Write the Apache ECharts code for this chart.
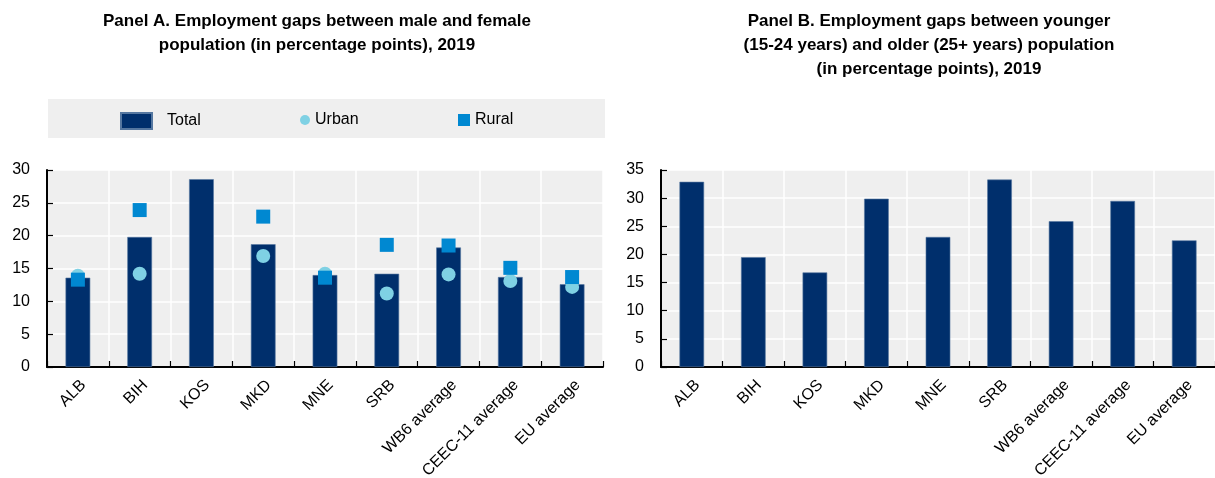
<!DOCTYPE html>
<html>
<head>
<meta charset="utf-8">
<script src="https://cdn.jsdelivr.net/npm/echarts@6/dist/echarts.min.js"></script>
<style>
  html, body { margin: 0; padding: 0; background: #fff; }
  #chart { width: 1215px; height: 478px; }
</style>
</head>
<body>
<div id="chart"></div>
<script>
// Country / aggregate labels shared by both panels
const categories = ['ALB', 'BIH', 'KOS', 'MKD', 'MNE', 'SRB', 'WB6 average', 'CEEC-11 average', 'EU average'];

// Panel A: male-female employment gap (pp)
const genderTotal = [13.6, 19.8, 28.6, 18.7, 14.0, 14.2, 18.2, 13.7, 12.6];
const genderUrban = [13.9, 14.2, null, 16.9, 14.2, 11.2, 14.1, 13.1, 12.2];
const genderRural = [13.3, 23.9, null, 22.9, 13.6, 18.6, 18.5, 15.1, 13.7];

// Panel B: younger (15-24) vs older (25+) employment gap (pp)
const ageTotal = [32.9, 19.5, 16.8, 29.9, 23.1, 33.3, 25.9, 29.5, 22.5];

// Y-axis tick settings
const yTicksA = { min: 0, max: 30, interval: 5 };
const yTicksB = { min: 0, max: 35, interval: 5 };

const FONT = "'Liberation Sans', Arial, sans-serif";
const NAVY = '#002f6c';
const LIGHT = '#7fd1e4';
const MID = '#0088d1';
const PANEL_BG = '#efefef';

function xAxisFor(gridIndex) {
  return {
    type: 'category',
    gridIndex,
    data: categories,
    boundaryGap: true,
    axisLine: { show: true, lineStyle: { color: '#000', width: 2 } },
    axisTick: { show: true, inside: true, length: 6, lineStyle: { color: '#000', width: 1.2 } },
    axisLabel: {
      rotate: 45, margin: 10, verticalAlign: 'top',
      color: '#000', fontFamily: FONT, fontSize: 16, interval: 0
    },
    splitLine: { show: true, lineStyle: { color: '#fff', width: 1.5 } }
  };
}

function yAxisFor(gridIndex, t) {
  return {
    type: 'value',
    gridIndex,
    min: t.min,
    max: t.max,
    interval: t.interval,
    axisLine: { show: true, lineStyle: { color: '#000', width: 2 } },
    axisTick: { show: true, inside: true, length: 6, lineStyle: { color: '#000', width: 1.2 } },
    axisLabel: { margin: 17, color: '#000', fontFamily: FONT, fontSize: 16 },
    splitLine: { show: true, lineStyle: { color: '#fff', width: 1.5 } }
  };
}

const chart = echarts.init(document.getElementById('chart'), null, { renderer: 'canvas' });

chart.setOption({
  animation: false,
  backgroundColor: '#fff',
  title: [
    {
      text: 'Panel A. Employment gaps between male and female\npopulation (in percentage points), 2019',
      left: 317, top: 9, padding: 0, textAlign: 'center',
      textStyle: { fontFamily: FONT, fontSize: 17, fontWeight: 'bold', color: '#000', lineHeight: 24 }
    },
    {
      text: 'Panel B. Employment gaps between younger\n(15-24 years) and older (25+ years) population\n(in percentage points), 2019',
      left: 929, top: 9, padding: 0, textAlign: 'center',
      textStyle: { fontFamily: FONT, fontSize: 17, fontWeight: 'bold', color: '#000', lineHeight: 24 }
    }
  ],
  graphic: [
    { type: 'rect', shape: { x: 48, y: 99, width: 557, height: 39 }, style: { fill: PANEL_BG }, z: -1 }
  ],
  legend: [
    {
      data: [{ name: 'Total', icon: 'rect' }],
      left: 120, top: 112, padding: 0,
      itemWidth: 31, itemHeight: 16,
      textStyle: { fontFamily: FONT, fontSize: 16, color: '#000', padding: [0, 0, 0, 10] }
    },
    {
      data: [{ name: 'Urban', icon: 'circle' }],
      left: 300, top: 112, padding: 0,
      itemWidth: 10, itemHeight: 10,
      textStyle: { fontFamily: FONT, fontSize: 16, color: '#000' }
    },
    {
      data: [{ name: 'Rural', icon: 'rect' }],
      left: 458, top: 112, padding: 0,
      itemWidth: 12, itemHeight: 12,
      textStyle: { fontFamily: FONT, fontSize: 16, color: '#000' }
    }
  ],
  grid: [
    { left: 47, right: 612, top: 170, bottom: 111, outerBoundsMode: 'none', containLabel: false,
      show: true, backgroundColor: PANEL_BG, borderWidth: 0 },
    { left: 661, right: 0, top: 170, bottom: 111, outerBoundsMode: 'none', containLabel: false,
      show: true, backgroundColor: PANEL_BG, borderWidth: 0 }
  ],
  xAxis: [xAxisFor(0), xAxisFor(1)],
  yAxis: [yAxisFor(0, yTicksA), yAxisFor(1, yTicksB)],
  series: [
    {
      name: 'Total', type: 'bar', xAxisIndex: 0, yAxisIndex: 0,
      data: genderTotal, barWidth: '40%',
      itemStyle: { color: NAVY, borderColor: '#5577a0', borderWidth: 0.6 }
    },
    {
      name: 'Urban', type: 'scatter', xAxisIndex: 0, yAxisIndex: 0,
      data: genderUrban, symbol: 'circle', symbolSize: 14,
      itemStyle: { color: LIGHT, opacity: 1 }, z: 3
    },
    {
      name: 'Rural', type: 'scatter', xAxisIndex: 0, yAxisIndex: 0,
      data: genderRural, symbol: 'rect', symbolSize: 14,
      itemStyle: { color: MID, opacity: 1 }, z: 4
    },
    {
      name: 'Youth gap', type: 'bar', xAxisIndex: 1, yAxisIndex: 1,
      data: ageTotal, barWidth: '40%',
      itemStyle: { color: NAVY, borderColor: '#5577a0', borderWidth: 0.6 }
    }
  ]
});
</script>
</body>
</html>
